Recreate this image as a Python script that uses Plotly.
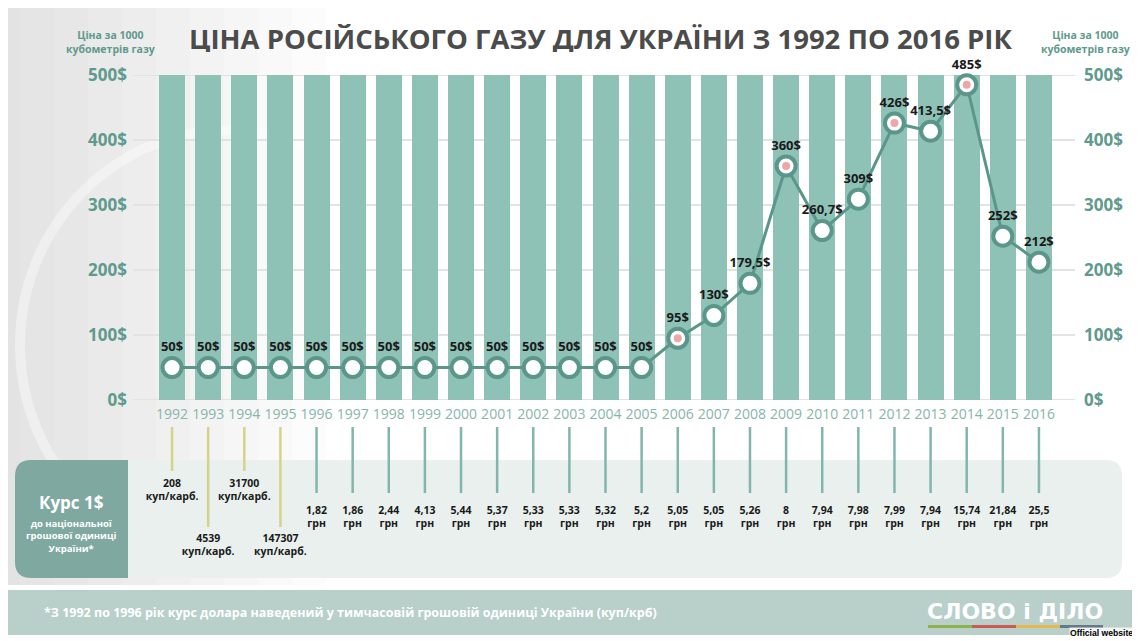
import plotly.graph_objects as go

# ---------------- data ----------------
years = [1992, 1993, 1994, 1995, 1996, 1997, 1998, 1999, 2000, 2001, 2002, 2003, 2004,
         2005, 2006, 2007, 2008, 2009, 2010, 2011, 2012, 2013, 2014, 2015, 2016]
gas_price = [50, 50, 50, 50, 50, 50, 50, 50, 50, 50, 50, 50, 50,
             50, 95, 130, 179.5, 360, 260.7, 309, 426, 413.5, 485, 252, 212]
price_labels = ["50$"] * 14 + ["95$", "130$", "179,5$", "360$", "260,7$", "309$",
                               "426$", "413,5$", "485$", "252$", "212$"]
highlight_years = [2006, 2009, 2012, 2014]
highlight_price = [95, 360, 426, 485]
column_top = [500, 500, 500, 500, 500, 500, 500, 500, 500, 500, 500, 500, 500,
              500, 500, 500, 500, 500, 500, 500, 500, 500, 500, 500, 500]
y_ticks = [0, 100, 200, 300, 400, 500]
y_tick_text = ["0$", "100$", "200$", "300$", "400$", "500$"]

rate_values = ["208", "4539", "31700", "147307", "1,82", "1,86", "2,44", "4,13", "5,44",
               "5,37", "5,33", "5,33", "5,32", "5,2", "5,05", "5,05", "5,26", "8",
               "7,94", "7,98", "7,99", "7,94", "15,74", "21,84", "25,5"]
rate_units = ["куп/карб.", "куп/карб.", "куп/карб.", "куп/карб."] + ["грн"] * 21

# ---------------- style ----------------
BAR = "#8fc2b6"
TEAL = "#5b968a"
AXIS_TXT = "#5f9a8e"
YEAR_TXT = "#86b5ab"
FONT = "Open Sans"

# page offset (body margin) compensation
OX, OY = 8, 8
W, H = 1132, 633


def px(x):
    return (x - OX) / W


def py(y):
    return 1 - (y - OY) / H


x0_px, x1_px = 154.0, 1057.0
y0_px, y1_px = 400.0, 75.0

fig = go.Figure()

# background columns
fig.add_trace(go.Bar(x=years, y=column_top, marker=dict(color=BAR, line=dict(width=0)),
                     width=0.72, hoverinfo="skip", showlegend=False))

# price line
fig.add_trace(go.Scatter(
    x=years, y=gas_price, mode="lines+markers+text",
    line=dict(color=TEAL, width=3),
    marker=dict(size=19, color="white", line=dict(color=TEAL, width=4)),
    text=price_labels, textposition="top center",
    textfont=dict(family=FONT, size=13, color="#1a1a1a", weight="bold"),
    cliponaxis=False, showlegend=False, hoverinfo="skip"))

# highlighted points
fig.add_trace(go.Scatter(
    x=highlight_years, y=highlight_price, mode="markers",
    marker=dict(size=8, color="#eea7a4"), showlegend=False, hoverinfo="skip",
    cliponaxis=False))

# invisible trace for right axis
fig.add_trace(go.Scatter(x=[years[0]], y=[0], yaxis="y2", mode="markers",
                         marker=dict(opacity=0), showlegend=False, hoverinfo="skip"))

# ---- lower exchange-rate panel (pixel-like axis y3) ----
line_end = {1992: 471, 1993: 527, 1994: 471, 1995: 527}
label_mid = {1992: 491, 1993: 546, 1994: 491, 1995: 546}

yx, yy, tx, ty = [], [], [], []
for yr in years:
    if yr in line_end:
        yx += [yr, yr, None]
        yy += [427, line_end[yr], None]
    else:
        tx += [yr, yr, None]
        ty += [427, 493, None]

fig.add_trace(go.Scatter(x=yx, y=yy, yaxis="y3", mode="lines",
                         line=dict(color="#d5d28c", width=2.5),
                         showlegend=False, hoverinfo="skip"))
fig.add_trace(go.Scatter(x=tx, y=ty, yaxis="y3", mode="lines",
                         line=dict(color="#82b6ab", width=2.5),
                         showlegend=False, hoverinfo="skip"))

rate_text = [f"{v}<br>{u}" for v, u in zip(rate_values, rate_units)]
rate_y = [label_mid.get(yr, 518) for yr in years]
fig.add_trace(go.Scatter(x=years, y=rate_y, yaxis="y3", mode="text",
                         text=rate_text, textposition="middle center",
                         textfont=dict(family=FONT, size=10.5, color="#1a1a1a", weight="bold"),
                         cliponaxis=False, showlegend=False, hoverinfo="skip"))

# ---------------- shapes ----------------
shapes = []

# faded background on the left (photo hint)
for i in range(10):
    shapes.append(dict(type="rect", xref="paper", yref="paper",
                       x0=px(0), x1=px(20 + i * 34), y0=py(585), y1=py(0),
                       fillcolor="rgba(175,182,182,0.045)", line=dict(width=0), layer="below"))
shapes.append(dict(type="circle", xref="paper", yref="paper",
                   x0=px(20), x1=px(440), y0=py(560), y1=py(130),
                   line=dict(color="rgba(255,255,255,0.4)", width=10), layer="below"))

# gridlines
for t in y_ticks:
    shapes.append(dict(type="line", xref="paper", yref="y", x0=px(133), x1=px(1075),
                       y0=t, y1=t, line=dict(color="#e0e4e3", width=2), layer="below"))


def rounded(xa, xb, ya, yb, r, left=True, right=True):
    X = px
    Y = py
    p = []
    if left:
        p.append(f"M {X(xa)},{Y(ya + r)} Q {X(xa)},{Y(ya)} {X(xa + r)},{Y(ya)}")
    else:
        p.append(f"M {X(xa)},{Y(ya)}")
    if right:
        p.append(f"L {X(xb - r)},{Y(ya)} Q {X(xb)},{Y(ya)} {X(xb)},{Y(ya + r)}")
        p.append(f"L {X(xb)},{Y(yb - r)} Q {X(xb)},{Y(yb)} {X(xb - r)},{Y(yb)}")
    else:
        p.append(f"L {X(xb)},{Y(ya)} L {X(xb)},{Y(yb)}")
    if left:
        p.append(f"L {X(xa + r)},{Y(yb)} Q {X(xa)},{Y(yb)} {X(xa)},{Y(yb - r)} Z")
    else:
        p.append(f"L {X(xa)},{Y(yb)} Z")
    return " ".join(p)


shapes.append(dict(type="path", xref="paper", yref="paper",
                   path=rounded(15, 1122, 460, 578, 16),
                   fillcolor="#e9f0ee", line=dict(width=0), layer="below"))
shapes.append(dict(type="path", xref="paper", yref="paper",
                   path=rounded(15, 128, 460, 578, 16, left=True, right=False),
                   fillcolor="#7fa9a0", line=dict(width=0), layer="below"))

# footer band
shapes.append(dict(type="rect", xref="paper", yref="paper", x0=px(0), x1=px(1140),
                   y0=py(635), y1=py(590), fillcolor="#b8cfca", line=dict(width=0),
                   layer="below"))
# logo stripes
for (a, b, c) in [(928, 972, "#8db24e"), (972, 1016, "#cc5a50"),
                  (1016, 1060, "#e6b950"), (1060, 1103, "#66788a")]:
    shapes.append(dict(type="rect", xref="paper", yref="paper", x0=px(a), x1=px(b),
                       y0=py(628), y1=py(625), fillcolor=c, line=dict(width=0)))

# ---------------- annotations ----------------
ann = []
ann.append(dict(x=px(600), y=py(37.5), xref="paper", yref="paper",
                text="ЦІНА РОСІЙСЬКОГО ГАЗУ ДЛЯ УКРАЇНИ З 1992 ПО 2016 РІК",
                showarrow=False, xanchor="center", yanchor="middle", height=28,
                font=dict(family=FONT, size=27.5, color="#4b4b4b", weight="bold")))
for cx in (110, 1085):
    ann.append(dict(x=px(cx), y=py(42), xref="paper", yref="paper",
                    text="Ціна за 1000<br>кубометрів газу", showarrow=False,
                    xanchor="center", yanchor="middle",
                    font=dict(family=FONT, size=10.5, color=AXIS_TXT, weight="bold")))
ann.append(dict(x=px(71), y=py(502), xref="paper", yref="paper", text="Курс 1$",
                showarrow=False, xanchor="center", yanchor="middle",
                font=dict(family=FONT, size=17, color="white", weight="bold")))
ann.append(dict(x=px(71), y=py(536), xref="paper", yref="paper",
                text="до національної<br>грошової одиниці<br>України*", showarrow=False,
                xanchor="center", yanchor="middle",
                font=dict(family=FONT, size=9.5, color="white", weight="bold")))
ann.append(dict(x=px(42), y=py(612), xref="paper", yref="paper",
                text="*З 1992 по 1996 рік курс долара наведений у тимчасовій грошовій одиниці України (куп/крб)",
                showarrow=False, xanchor="left", yanchor="middle",
                font=dict(family=FONT, size=12.5, color="white", weight="bold")))
ann.append(dict(x=px(1015), y=py(611), xref="paper", yref="paper",
                text="СЛОВО і ДІЛО", showarrow=False, xanchor="center", yanchor="middle",
                font=dict(family="DejaVu Sans", size=22, color="white", weight="bold")))
ann.append(dict(x=px(1134), y=py(633), xref="paper", yref="paper",
                text="Official website", showarrow=False, xanchor="right", yanchor="middle",
                font=dict(family="Liberation Sans", size=8.6, color="black", weight="bold"),
                bgcolor="rgba(255,255,255,0.8)", borderpad=0))

fig.update_layout(
    width=W, height=H, margin=dict(l=0, r=0, t=0, b=0, pad=0, autoexpand=False),
    paper_bgcolor="white", plot_bgcolor="rgba(0,0,0,0)",
    showlegend=False, bargap=0,
    xaxis=dict(domain=[px(x0_px), px(x1_px)], range=[1991.5, 2016.5],
               tickvals=years, ticktext=[str(y) for y in years],
               showgrid=False, zeroline=False, showline=False, ticks="",
               tickfont=dict(family=FONT, size=14, color=YEAR_TXT),
               ticklabelstandoff=4, fixedrange=True, automargin=False),
    yaxis=dict(domain=[py(y0_px), py(y1_px)], range=[0, 500], tickvals=y_ticks,
               ticktext=y_tick_text, showgrid=False, zeroline=False, showline=False,
               ticks="", tickfont=dict(family=FONT, size=17, color=AXIS_TXT, weight="bold"),
               ticklabelstandoff=26, fixedrange=True, automargin=False),
    yaxis2=dict(domain=[py(y0_px), py(y1_px)], range=[0, 500], tickvals=y_ticks,
                ticktext=y_tick_text, overlaying="y", side="right", anchor="x",
                showgrid=False, zeroline=False, showline=False, ticks="",
                tickfont=dict(family=FONT, size=17, color=AXIS_TXT, weight="bold"),
                ticklabelstandoff=26, fixedrange=True, automargin=False),
    yaxis3=dict(domain=[0, py(420)], range=[641, 420], visible=False, fixedrange=True,
                anchor="x", automargin=False),
    shapes=shapes, annotations=ann,
)

fig.write_html("out.html")
